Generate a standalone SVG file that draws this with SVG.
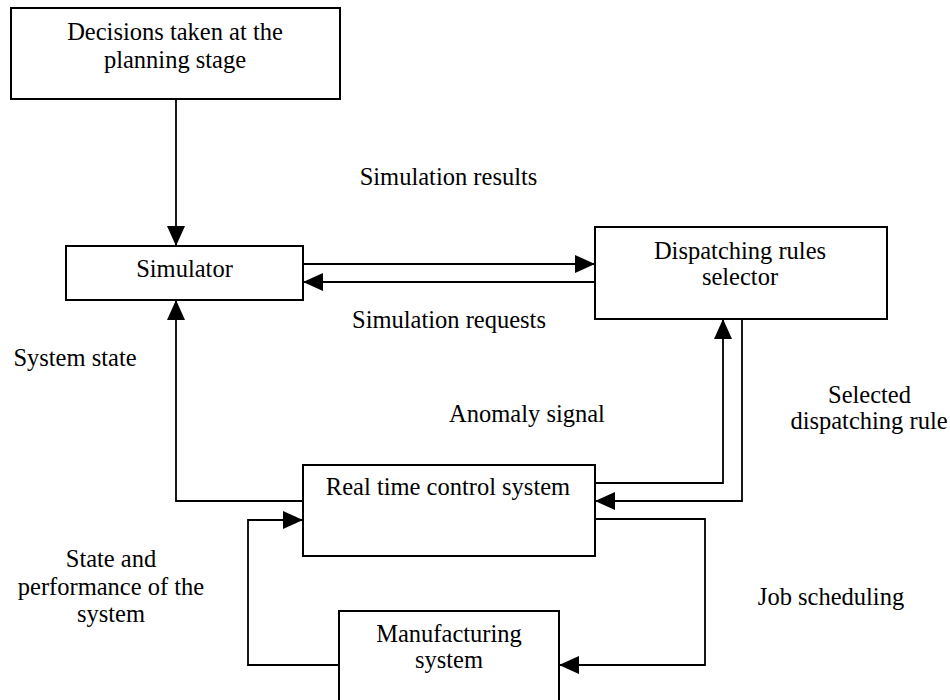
<svg xmlns="http://www.w3.org/2000/svg" width="950" height="700" viewBox="0 0 950 700">
<style>
.box{fill:#fff;stroke:#000;stroke-width:2}
.ln{fill:none;stroke:#000;stroke-width:1.8}
text{font-family:"Liberation Serif","Times New Roman",serif;font-size:24.5px;fill:#000;text-anchor:middle}
</style>
<defs>
<marker id="ah" markerUnits="userSpaceOnUse" markerWidth="20" markerHeight="18" refX="20" refY="9" orient="auto" viewBox="0 0 20 18">
<path d="M0,0 L20,9 L0,18 z" fill="#000"/>
</marker>
</defs>
<rect width="950" height="700" fill="#fff"/>
<g id="connectors">
<path class="ln" d="M176,99 V246" marker-end="url(#ah)"/>
<path class="ln" d="M303,264 H595" marker-end="url(#ah)"/>
<path class="ln" d="M595,282 H303" marker-end="url(#ah)"/>
<path class="ln" d="M303,501 H176 V300" marker-end="url(#ah)"/>
<path class="ln" d="M595,483 H723 V319" marker-end="url(#ah)"/>
<path class="ln" d="M742,319 V501 H595" marker-end="url(#ah)"/>
<path class="ln" d="M595,519 H705 V665 H559" marker-end="url(#ah)"/>
<path class="ln" d="M339,665 H248 V520 H303" marker-end="url(#ah)"/>
</g>
<g id="decisions">
<rect class="box" x="11" y="8" width="329" height="91"/>
<text x="175" y="40">Decisions taken at the</text>
<text x="175" y="68">planning stage</text>
</g>
<g id="simulator">
<rect class="box" x="66" y="246" width="237" height="54"/>
<text x="184.5" y="277">Simulator</text>
</g>
<g id="dispatcher">
<rect class="box" x="595" y="227" width="292" height="92"/>
<text x="740" y="259">Dispatching rules</text>
<text x="740" y="285">selector</text>
</g>
<g id="rtcs">
<rect class="box" x="303" y="465" width="292" height="91"/>
<text x="448" y="495">Real time control system</text>
</g>
<g id="manufacturing">
<rect class="box" x="339" y="611" width="220" height="100"/>
<text x="449" y="642">Manufacturing</text>
<text x="449" y="668">system</text>
</g>
<g id="labels">
<text x="448.5" y="185">Simulation results</text>
<text x="449" y="328">Simulation requests</text>
<text x="75" y="366">System state</text>
<text x="527" y="422">Anomaly signal</text>
<text x="869.5" y="403">Selected</text>
<text x="869" y="429">dispatching rule</text>
<text x="111" y="567">State and</text>
<text x="111" y="595">performance of the</text>
<text x="111" y="622">system</text>
<text x="831" y="605">Job scheduling</text>
</g>
</svg>
